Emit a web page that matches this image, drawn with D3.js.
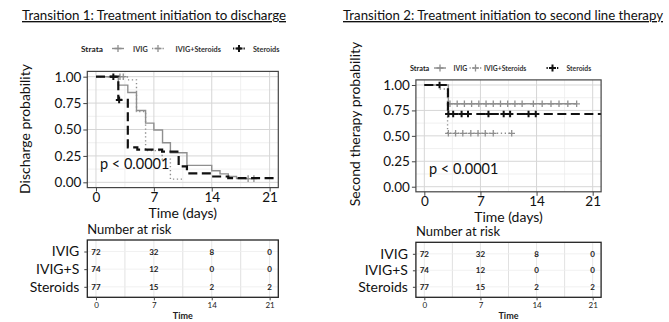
<!DOCTYPE html>
<html><head><meta charset="utf-8">
<script src="https://cdn.jsdelivr.net/npm/d3@7"></script>
<style>
body{margin:0;background:#fff;}
svg{display:block;}
text{font-family:Lato,"Open Sans",sans-serif;}
</style></head>
<body>
<svg id="c" width="669" height="322"></svg>
<script>
// ---------- DATA ----------
const timeTicks = [0, 7, 14, 21];
const probTicks = [0, 0.25, 0.5, 0.75, 1];
const strata = ["IVIG", "IVIG+Steroids", "Steroids"];
const riskRowLabels = ["IVIG", "IVIG+S", "Steroids"];

// Transition 1: treatment initiation to discharge
const t1_IVIG_time = [0, 2.7, 3.85, 4.9, 6.0, 7.0, 8.05, 9.0, 11.0, 14.0, 15.0, 16.0, 17.0, 19.1];
const t1_IVIG_surv = [1.0, 0.92, 0.85, 0.68, 0.56, 0.495, 0.375, 0.28, 0.16, 0.11, 0.08, 0.055, 0.035, 0.035];
const t1_IVIGS_time = [0, 3.8, 4.9, 6.0, 8.0, 9.0, 10.6];
const t1_IVIGS_surv = [1.0, 0.97, 0.67, 0.30, 0.22, 0.03, 0.03];
const t1_STER_time = [0, 2.7, 3.85, 5.0, 8.0, 10.0, 11.0, 14.0, 16.0, 22.05];
const t1_STER_surv = [1.0, 0.78, 0.33, 0.31, 0.29, 0.15, 0.085, 0.055, 0.04, 0.04];
const t1_IVIG_cens_time = [2.9, 18.4, 19.1];
const t1_IVIG_cens_surv = [1.0, 0.035, 0.035];
const t1_IVIGS_cens_time = [3.3];
const t1_IVIGS_cens_surv = [1.0];
const t1_STER_cens_time = [2.1, 2.8];
const t1_STER_cens_surv = [1.0, 0.78];
const t1_risk_IVIG = [72, 32, 8, 0];
const t1_risk_IVIGS = [74, 12, 0, 0];
const t1_risk_STER = [77, 15, 2, 2];

// Transition 2: treatment initiation to second line therapy
const t2_IVIG_time = [0, 3.0, 19.0];
const t2_IVIG_surv = [1.0, 0.815, 0.815];
const t2_IVIGS_time = [0, 2.0, 2.9, 10.9];
const t2_IVIGS_surv = [1.0, 0.96, 0.525, 0.525];
const t2_STER_time = [0, 2.95, 22.05];
const t2_STER_surv = [1.0, 0.715, 0.715];
const t2_IVIG_cens_time = [3.2, 4.1, 5.0, 5.9, 6.8, 7.7, 8.6, 9.5, 10.4, 11.3, 12.2, 13.6, 14.7, 15.8, 16.8, 17.9, 19.0];
const t2_IVIG_cens_surv = [0.815, 0.815, 0.815, 0.815, 0.815, 0.815, 0.815, 0.815, 0.815, 0.815, 0.815, 0.815, 0.815, 0.815, 0.815, 0.815, 0.815];
const t2_IVIGS_cens_time = [3.0, 3.9, 4.8, 5.8, 6.7, 7.6, 8.6, 10.9];
const t2_IVIGS_cens_surv = [0.525, 0.525, 0.525, 0.525, 0.525, 0.525, 0.525, 0.525];
const t2_STER_cens_time = [1.9, 3.0, 3.6, 4.65, 5.45, 8.0, 9.9, 10.7, 13.0, 13.9];
const t2_STER_cens_surv = [1.0, 0.715, 0.715, 0.715, 0.715, 0.715, 0.715, 0.715, 0.715, 0.715];
const t2_risk_IVIG = [72, 32, 8, 0];
const t2_risk_IVIGS = [74, 12, 0, 0];
const t2_risk_STER = [77, 15, 2, 2];

// ---------- STYLES ----------
const styles = {
  "IVIG": {color: "#8f8f8f", width: 1.4, dash: null},
  "IVIG+Steroids": {color: "#8f8f8f", width: 1.4, dash: "1.3,2.6"},
  "Steroids": {color: "#111", width: 2.2, dash: "9,4.5"}
};

const svg = d3.select("#c");
const zip = (a, b) => a.map((v, i) => [v, b[i]]);

function plus(g, x, y, color, size, w) {
  g.append("path").attr("d", `M${x - size},${y}H${x + size}M${x},${y - size}V${y + size}`)
    .attr("stroke", color).attr("stroke-width", w).attr("fill", "none");
}

function drawPanel(o) {
  const x = d3.scaleLinear().domain([-1.05, 22.05]).range([o.px0, o.px1]);
  const y = d3.scaleLinear().domain([-0.05, 1.05]).range([o.py1, o.py0]);
  const g = svg.append("g");

  // title
  const tt = g.append("text").attr("x", o.titleX).attr("y", 20).attr("font-size", o.titleSize)
    .attr("fill", "#111").attr("text-decoration", "underline").text(o.title);
  if (o.titleLen) tt.attr("textLength", o.titleLen).attr("lengthAdjust", "spacingAndGlyphs");

  // legend
  const lg = g.append("g").attr("transform", `translate(0,${o.legY})`);
  lg.append("text").attr("x", o.legX[0]).attr("y", 3).attr("font-size", o.strataSize).attr("font-weight", "bold")
    .attr("font-family", "'Liberation Sans',Arial,sans-serif").attr("fill", "#222").text("Strata");
  strata.forEach((s, i) => {
    const kx = o.legX[1 + i * 2];
    const st = styles[s];
    lg.append("line").attr("x1", kx).attr("x2", kx + 12).attr("y1", 0).attr("y2", 0)
      .attr("stroke", st.color).attr("stroke-width", st.width).attr("stroke-dasharray", st.dash ? "1.3,2.2" : null);
    plus(lg, kx + 6, 0, st.color, 3.5, s === "Steroids" ? 2 : 1.3);
    lg.append("text").attr("x", o.legX[2 + i * 2]).attr("y", 3).attr("font-size", o.legSize).attr("font-weight", "bold")
      .attr("font-family", "'Liberation Sans',Arial,sans-serif").attr("fill", "#333").text(s);
  });

  // panel grid
  const minorX = [3.5, 10.5, 17.5], minorY = [0.125, 0.375, 0.625, 0.875];
  g.selectAll(null).data(minorX).enter().append("line")
    .attr("x1", d => x(d)).attr("x2", d => x(d)).attr("y1", o.py0).attr("y2", o.py1)
    .attr("stroke", "#ececec").attr("stroke-width", 0.8);
  g.selectAll(null).data(minorY).enter().append("line")
    .attr("x1", o.px0).attr("x2", o.px1).attr("y1", d => y(d)).attr("y2", d => y(d))
    .attr("stroke", "#ececec").attr("stroke-width", 0.8);
  g.selectAll(null).data(timeTicks).enter().append("line")
    .attr("x1", d => x(d)).attr("x2", d => x(d)).attr("y1", o.py0).attr("y2", o.py1)
    .attr("stroke", "#d6d6d6").attr("stroke-width", 1);
  g.selectAll(null).data(probTicks).enter().append("line")
    .attr("x1", o.px0).attr("x2", o.px1).attr("y1", d => y(d)).attr("y2", d => y(d))
    .attr("stroke", "#d6d6d6").attr("stroke-width", 1);

  // curves
  const line = d3.line().x(d => x(d[0])).y(d => y(d[1])).curve(d3.curveStepAfter);
  o.curves.forEach(c => {
    const st = styles[c.name];
    g.append("path").attr("d", line(zip(c.time, c.surv))).attr("fill", "none")
      .attr("stroke", st.color).attr("stroke-width", st.width).attr("stroke-dasharray", st.dash);
    zip(c.ct, c.cs).forEach(p => plus(g, x(p[0]), y(p[1]), st.color, 3.3, c.name === "Steroids" ? 2 : 1.3));
  });

  // p value
  g.append("text").attr("x", o.pX).attr("y", o.pY).attr("font-size", 14.5).attr("fill", "#111").text("p < 0.0001");

  // border
  g.append("rect").attr("x", o.px0).attr("y", o.py0).attr("width", o.px1 - o.px0).attr("height", o.py1 - o.py0)
    .attr("fill", "none").attr("stroke", "#444").attr("stroke-width", 1.2);

  // axes
  const ay = g.append("g").attr("transform", `translate(${o.px0},0)`)
    .call(d3.axisLeft(y).tickValues(probTicks).tickFormat(d3.format(".2f")).tickSize(4).tickPadding(2));
  const ax = g.append("g").attr("transform", `translate(0,${o.py1})`)
    .call(d3.axisBottom(x).tickValues(timeTicks).tickSize(4).tickPadding(1));
  [ax, ay].forEach(a => {
    a.select(".domain").remove();
    a.selectAll(".tick line").attr("stroke", "#444");
    a.selectAll(".tick text").attr("font-size", 13.5).attr("fill", "#111").attr("font-family", "Lato,sans-serif");
  });

  // axis titles
  g.append("text").attr("transform", `translate(${o.yTitleX},${o.yTitleY}) rotate(-90)`)
    .attr("text-anchor", "middle").attr("font-size", 14).attr("fill", "#111").text(o.yTitle);
  g.append("text").attr("x", (x(0) + x(21)) / 2).attr("y", o.py1 + 30).attr("text-anchor", "middle")
    .attr("font-size", 14).attr("fill", "#111").text("Time (days)");

  // risk table
  g.append("text").attr("x", o.px0).attr("y", o.tY0 - 6).attr("font-size", 13).attr("fill", "#111").text("Number at risk");
  const ty = d3.scalePoint().domain(riskRowLabels).range([o.tY0 + 11.5, o.tY1 - 10.5]);
  g.selectAll(null).data(minorX).enter().append("line")
    .attr("x1", d => x(d)).attr("x2", d => x(d)).attr("y1", o.tY0).attr("y2", o.tY1)
    .attr("stroke", "#dedede").attr("stroke-width", 0.9);
  g.selectAll(null).data(timeTicks).enter().append("line")
    .attr("x1", d => x(d)).attr("x2", d => x(d)).attr("y1", o.tY0).attr("y2", o.tY1)
    .attr("stroke", "#e4e4e4").attr("stroke-width", 0.9);
  g.selectAll(null).data(riskRowLabels).enter().append("line")
    .attr("x1", o.px0).attr("x2", o.px1).attr("y1", d => ty(d)).attr("y2", d => ty(d))
    .attr("stroke", "#eeeeee").attr("stroke-width", 0.8);
  o.risk.forEach((row, ri) => {
    row.forEach((v, ci) => {
      g.append("text").attr("x", x(timeTicks[ci])).attr("y", ty(riskRowLabels[ri]) + 3)
        .attr("text-anchor", "middle").attr("font-size", 8).attr("font-weight", "bold")
        .attr("font-family", "'Liberation Sans',Arial,sans-serif").attr("fill", "#222").text(v);
    });
  });
  g.append("rect").attr("x", o.px0).attr("y", o.tY0).attr("width", o.px1 - o.px0).attr("height", o.tY1 - o.tY0)
    .attr("fill", "none").attr("stroke", "#222").attr("stroke-width", 1.3);
  const tay = g.append("g").attr("transform", `translate(${o.px0},0)`)
    .call(d3.axisLeft(ty).tickSize(3).tickPadding(5));
  tay.select(".domain").remove();
  tay.selectAll(".tick line").attr("stroke", "#444");
  tay.selectAll(".tick text").attr("font-size", 14).attr("fill", "#111").attr("font-family", "Lato,sans-serif");
  const tax = g.append("g").attr("transform", `translate(0,${o.tY1})`)
    .call(d3.axisBottom(x).tickValues(timeTicks).tickSize(3).tickPadding(2));
  tax.select(".domain").remove();
  tax.selectAll(".tick line").attr("stroke", "#444");
  tax.selectAll(".tick text").attr("font-size", 8).attr("fill", "#222").attr("font-family", "'Liberation Sans',Arial,sans-serif");
  g.append("text").attr("x", (x(0) + x(21)) / 2).attr("y", o.tY1 + 22).attr("text-anchor", "middle")
    .attr("font-size", 9).attr("font-weight", "bold").attr("font-family", "'Liberation Sans',Arial,sans-serif")
    .attr("fill", "#222").text("Time");
}

drawPanel({
  title: "Transition 1: Treatment initiation to discharge", titleX: 22, titleSize: 13.5, titleLen: 264,
  px0: 87.3, px1: 278.3, py0: 71.4, py1: 187.6,
  legY: 48.5, strataSize: 8.3, legSize: 7.3, legX: [81, 112, 133, 152, 175.5, 233, 253],
  curves: [
    {name: "IVIG", time: t1_IVIG_time, surv: t1_IVIG_surv, ct: t1_IVIG_cens_time, cs: t1_IVIG_cens_surv},
    {name: "IVIG+Steroids", time: t1_IVIGS_time, surv: t1_IVIGS_surv, ct: t1_IVIGS_cens_time, cs: t1_IVIGS_cens_surv},
    {name: "Steroids", time: t1_STER_time, surv: t1_STER_surv, ct: t1_STER_cens_time, cs: t1_STER_cens_surv}
  ],
  pX: 100, pY: 168.5,
  yTitle: "Discharge probability", yTitleX: 30, yTitleY: 129,
  tY0: 240, tY1: 297.3,
  risk: [t1_risk_IVIG, t1_risk_IVIGS, t1_risk_STER]
});

drawPanel({
  title: "Transition 2: Treatment initiation to second line therapy", titleX: 343, titleSize: 13.5, titleLen: 320,
  px0: 415.9, px1: 601.1, py0: 79.9, py1: 191.8,
  legY: 68, strataSize: 7.3, legSize: 6.8, legX: [410, 434, 453.5, 469.5, 484, 546.5, 566.5],
  curves: [
    {name: "IVIG", time: t2_IVIG_time, surv: t2_IVIG_surv, ct: t2_IVIG_cens_time, cs: t2_IVIG_cens_surv},
    {name: "IVIG+Steroids", time: t2_IVIGS_time, surv: t2_IVIGS_surv, ct: t2_IVIGS_cens_time, cs: t2_IVIGS_cens_surv},
    {name: "Steroids", time: t2_STER_time, surv: t2_STER_surv, ct: t2_STER_cens_time, cs: t2_STER_cens_surv}
  ],
  pX: 429, pY: 173.5,
  yTitle: "Second therapy probability", yTitleX: 360, yTitleY: 124,
  tY0: 242.3, tY1: 297.3,
  risk: [t2_risk_IVIG, t2_risk_IVIGS, t2_risk_STER]
});
</script>
</body></html>
